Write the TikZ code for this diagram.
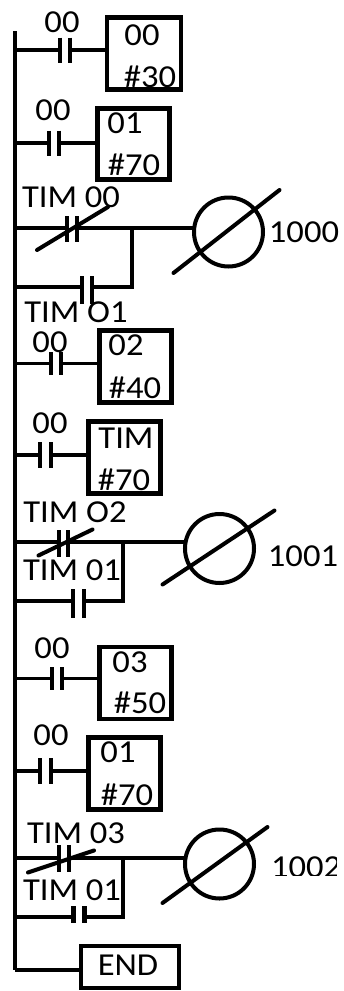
\documentclass[tikz,border=0pt]{standalone}
\usepackage{fontspec}
\setmainfont{Carlito}[FakeStretch=1.08]
\usetikzlibrary{calc}
\begin{document}
\begin{tikzpicture}[x=1pt,y=-1pt,
  wire/.style={line width=3.8pt},
  bar/.style={line width=4.5pt},
  slash/.style={line width=4pt,line cap=round},
  relay/.style={draw,line width=4.2pt,inner sep=0pt,outer sep=0pt},
  contact/.style={inner sep=0pt,outer sep=0pt,minimum width=10pt,minimum height=25pt},
  coil/.style={draw,circle,line width=4pt,minimum size=69pt,inner sep=0pt,outer sep=0pt},
  lbl/.style={font=\fontsize{32}{32}\selectfont,inner sep=0pt,outer sep=0pt,anchor=base},
]
\useasboundingbox (0,0) rectangle (344,991);
% rail
\coordinate (railtop) at (15,31);
\coordinate (railbot) at (15,970);
\draw[line width=4.5pt] (railtop) -- (railbot);

% ---------- rung 1
\node[contact] (c1) at (65,50) {};
\node[relay,minimum width=73.5pt,minimum height=72pt] (b1) at (144,53.5) {};
\draw[bar] (c1.north west) -- (c1.south west) (c1.north east) -- (c1.south east);
\draw[wire] (railtop |- c1) -- (c1.west) (c1.east) -- (c1 -| b1.west);
\node[lbl] (l1) at (62,32) {00};
\node[lbl] (t1a) at (142,45) {00};
\node[lbl] (t1b) at (150,87) {\#30};

% ---------- rung 2
\node[contact] (c2) at (54,143) {};
\node[relay,minimum width=72pt,minimum height=71pt] (b2) at (133.5,144) {};
\draw[bar] (c2.north west) -- (c2.south west) (c2.north east) -- (c2.south east);
\draw[wire] (railtop |- c2) -- (c2.west) (c2.east) -- (c2 -| b2.west);
\node[lbl] (l2) at (53,120) {00};
\node[lbl] (t2a) at (125,133) {01};
\node[lbl] (t2b) at (134,175) {\#70};

% ---------- rung 3
\node[contact,minimum height=26pt] (c3) at (72,229) {};
\node[coil] (o3) at (228.5,232) {};
\node[contact,minimum height=28pt] (c3b) at (87,290) {};
\coordinate (j3) at (132,228);
\coordinate (k3) at (132,287);
\draw[bar] (c3.north west) -- (c3.south west) (c3.north east) -- (c3.south east);
\draw[bar] (c3b.north west) -- (c3b.south west) (c3b.north east) -- (c3b.south east);
\draw[wire] (railtop |- j3) -- (c3.west |- j3) (c3.east |- j3) -- (j3 -| o3.west);
\draw[wire] (railtop |- k3) -- (c3b.west |- k3) (c3b.east |- k3) -- (k3) -- (j3);
\draw[slash] ([shift={(-35,21)}]c3.center) -- ([shift={(36,-22)}]c3.center);
\draw[slash] ([shift={(-55,41)}]o3.center) -- ([shift={(51,-42)}]o3.center);
\node[lbl] (l3) at (71,207) {TIM 00};
\node[lbl] (n3) at (304,242) {1000};
\node[lbl] (l3b) at (76,322) {TIM O1};

% ---------- rung 4
\node[contact,minimum height=23pt] (c4) at (56,363.5) {};
\node[relay,minimum width=72pt,minimum height=72pt] (b4) at (135.5,366.5) {};
\draw[bar] (c4.north west) -- (c4.south west) (c4.north east) -- (c4.south east);
\draw[wire] (railtop |- c4) -- (c4.west) (c4.east) -- (c4 -| b4.west);
\node[lbl] (l4) at (50,352) {00};
\node[lbl] (t4a) at (126,355) {02};
\node[lbl] (t4b) at (135,398) {\#40};

% ---------- rung 5
\node[contact,minimum height=26pt,minimum width=11pt] (c5) at (45.5,455) {};
\node[relay,minimum width=72pt,minimum height=72pt] (b5) at (124.5,457.5) {};
\draw[bar] (c5.north west) -- (c5.south west) (c5.north east) -- (c5.south east);
\draw[wire] (railtop |- c5) -- (c5.west) (c5.east) -- (c5 -| b5.west);
\node[lbl] (l5) at (50,433) {00};
\node[lbl] (t5a) at (126,448) {TIM};
\node[lbl] (t5b) at (124,490) {\#70};

% ---------- rung 6
\node[contact,minimum height=27pt,minimum width=9pt] (c6) at (63.5,543.5) {};
\node[coil] (o6) at (219.5,548.5) {};
\node[contact,minimum height=29pt,minimum width=11pt] (c6b) at (78.5,603.5) {};
\coordinate (j6) at (123,542);
\coordinate (k6) at (123,601);
\draw[bar] (c6.north west) -- (c6.south west) (c6.north east) -- (c6.south east);
\draw[bar] (c6b.north west) -- (c6b.south west) (c6b.north east) -- (c6b.south east);
\draw[wire] (railtop |- j6) -- (c6.west |- j6) (c6.east |- j6) -- (j6 -| o6.west);
\draw[wire] (railtop |- k6) -- (c6b.west |- k6) (c6b.east |- k6) -- (k6) -- (j6);
\draw[slash] ([shift={(-25,12)}]c6.center) -- ([shift={(29,-14)}]c6.center);
\draw[slash] ([shift={(-57,36)}]o6.center) -- ([shift={(55,-38)}]o6.center);
\node[lbl] (l6) at (75,522) {TIM O2};
\node[lbl] (n6) at (303,566) {1001};
\node[lbl] (l6b) at (72,580) {TIM 01};

% ---------- rung 7
\node[contact,minimum height=23pt] (c7) at (57,678.5) {};
\node[relay,minimum width=72pt,minimum height=71.5pt] (b7) at (135.5,683) {};
\draw[bar] (c7.north west) -- (c7.south west) (c7.north east) -- (c7.south east);
\draw[wire] (railtop |- c7) -- (c7.west) (c7.east) -- (c7 -| b7.west);
\node[lbl] (l7) at (52,658) {00};
\node[lbl] (t7a) at (130,672) {03};
\node[lbl] (t7b) at (140,713) {\#50};

% ---------- rung 8
\node[contact,minimum height=26pt,minimum width=11pt] (c8) at (45.5,771) {};
\node[relay,minimum width=72pt,minimum height=72pt] (b8) at (124.5,773.5) {};
\draw[bar] (c8.north west) -- (c8.south west) (c8.north east) -- (c8.south east);
\draw[wire] (railtop |- c8) -- (c8.west) (c8.east) -- (c8 -| b8.west);
\node[lbl] (l8) at (51,745) {00};
\node[lbl] (t8a) at (118,762) {01};
\node[lbl] (t8b) at (127,805) {\#70};

% ---------- rung 9
\node[contact,minimum height=27pt] (c9) at (64,858.5) {};
\node[coil] (o9) at (219.5,864) {};
\node[contact,minimum height=17pt,minimum width=11pt] (c9b) at (79,914.5) {};
\coordinate (j9) at (123,858);
\coordinate (k9) at (123,917);
\draw[bar] (c9.north west) -- (c9.south west) (c9.north east) -- (c9.south east);
\draw[bar] (c9b.north west) -- (c9b.south west) (c9b.north east) -- (c9b.south east);
\draw[wire] (railtop |- j9) -- (c9.west |- j9) (c9.east |- j9) -- (j9 -| o9.west);
\draw[wire] (railtop |- k9) -- (c9b.west |- k9) (c9b.east |- k9) -- (k9) -- (j9);
\draw[slash] ([shift={(-36,14)}]c9.center) -- ([shift={(30,-8)}]c9.center);
\draw[slash] ([shift={(-57,39)}]o9.center) -- ([shift={(48,-37)}]o9.center);
\node[lbl] (l9) at (76,843) {TIM 03};
\begin{scope}
  \clip (262,845) rectangle (336,875);
  \node[lbl,anchor=base west] (n9) at (271,877) {1002};
\end{scope}
\node[lbl] (l9b) at (72,900) {TIM 01};

% ---------- END
\node[relay,line width=3.6pt,minimum width=98.5pt,minimum height=42pt] (bend) at (130,967) {};
\draw[wire] (railbot) -- (railbot -| bend.west);
\node[lbl] (tend) at (128,975) {END};
\end{tikzpicture}
\end{document}
